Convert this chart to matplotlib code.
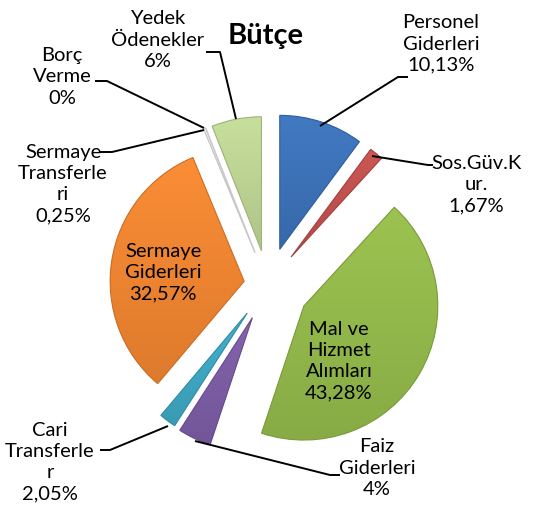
import numpy as np
import matplotlib
matplotlib.use("Agg")
import matplotlib.pyplot as plt
from matplotlib.colors import to_rgb
from matplotlib.patches import PathPatch

# ---- data ----
categories = ["Personel\nGiderleri", "Sos.Güv.K\nur.", "Mal ve\nHizmet\nAlımları", "Faiz\nGiderleri",
              "Cari\nTransferle\nr", "Sermaye\nGiderleri", "Sermaye\nTransferle\nri", "Borç\nVerme",
              "Yedek\nÖdenekler"]
values = [10.13, 1.67, 43.28, 4.0, 2.05, 32.57, 0.25, 0.0, 6.0]
value_labels = ["10,13%", "1,67%", "43,28%", "4%", "2,05%", "32,57%", "0,25%", "0%", "6%"]
title = "Bütçe"

# ---- style ----
colors = ["#3b71b7", "#c0504d", "#92b84a", "#7b5ca4", "#3ea6c2", "#ee8430", "#e6e6e6", "#f0f0f0", "#bcd393"]
explode = [0.28, 0.27, 0.31, 0.27, 0.26, 0.18, 0.26, 0.26, 0.26]

W, H = 541, 516
CX, CY, R = 268, 285, 134


def px(x, y):
    return ((x - CX) / R, (CY - y) / R)


fig = plt.figure(figsize=(W / 100, H / 100), dpi=100)
ax = fig.add_axes([0, 0, 1, 1])

wedges, _ = ax.pie(values, startangle=90, counterclock=False, explode=explode, radius=1,
                   colors=colors, wedgeprops=dict(linewidth=0), normalize=True)

# gentle gradient shading clipped to each wedge
for w, c in zip(wedges, colors):
    base = np.array(to_rgb(c))
    path = w.get_path().transformed(w.get_patch_transform())
    verts = path.vertices
    if len(verts) == 0:
        continue
    x0, y0 = verts.min(axis=0)
    x1, y1 = verts.max(axis=0)
    if x1 - x0 < 1e-6:
        continue
    t = np.linspace(0, 1, 64)[:, None]
    light = np.clip(base * 1.04 + 0.015, 0, 1)
    dark = base * 0.93
    grad = dark[None, :] * (1 - t) + light[None, :] * t
    img = np.repeat(grad[:, None, :], 2, axis=1)
    im = ax.imshow(img, extent=(x0, x1, y0, y1), origin="lower", interpolation="bilinear", zorder=2)
    im.set_clip_path(w)
    ax.add_patch(PathPatch(path, fill=False, edgecolor=tuple(base * 0.85), lw=0.8, zorder=3))

ax.set_xlim(-CX / R, (W - CX) / R)
ax.set_ylim(-(H - CY) / R, CY / R)
ax.set_aspect("equal")
ax.axis("off")

font = "Lato"
fs = 14.5

label_pos = [(441, 44), (476, 185), (339, 361), (377, 468), (50, 462), (163, 273), (63, 184), (62, 77), (158, 40)]
for cat, vl, (lx, ly) in zip(categories, value_labels, label_pos):
    ax.text(*px(lx, ly), cat + "\n" + vl, ha="center", va="center", fontsize=fs, family=font,
            linespacing=1.3, color="black", zorder=5)

leaders = [
    [(320, 126), (398, 77), (408, 77)],
    [(372, 156), (428, 165), (433, 165)],
    [(195, 441), (330, 475), (340, 475)],
    [(168, 426), (110, 450), (100, 450)],
    [(204, 130), (112, 152), (100, 152)],
    [(204, 128), (107, 81), (95, 81)],
    [(236, 119), (220, 52), (206, 52)],
]
for pts in leaders:
    xs, ys = zip(*[px(*p) for p in pts])
    ax.plot(xs, ys, color="black", lw=1.4, zorder=4, solid_capstyle="butt")

ax.text(*px(266, 36), title, ha="center", va="center", fontsize=21, fontweight="bold", family=font)

fig.savefig("out.png", dpi=100)
